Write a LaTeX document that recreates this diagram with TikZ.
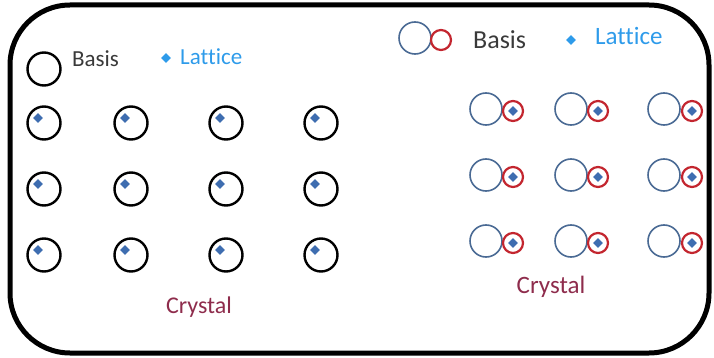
\documentclass[tikz,border=0pt]{standalone}
\usepackage{fontspec}
\setmainfont{Carlito}[Ligatures={NoCommon}]
\usetikzlibrary{shapes.geometric}
\definecolor{basisblue}{HTML}{4A6A94}
\definecolor{basisred}{HTML}{C3262F}
\definecolor{siteblue}{HTML}{3E6DB0}
\definecolor{latticeblue}{HTML}{2E9BEA}
\definecolor{crystalred}{HTML}{8E2C4C}
\definecolor{basisgray}{HTML}{3A3A3A}

\begin{document}
\begin{tikzpicture}[
    x=1pt,
    y=-1pt,
    frame/.style={draw, line width=5pt, rounded corners=60pt},
    atom/.style={draw, circle, line width=2.4pt, minimum size=33pt, inner sep=0pt},
    bigatom/.style={draw=basisblue, circle, line width=1.6pt, minimum size=32pt, inner sep=0pt},
    smallatom/.style={draw=basisred, circle, line width=2.2pt, minimum size=20pt, inner sep=0pt},
    site/.style={diamond, fill=siteblue, minimum size=10pt, inner sep=0pt},
    txt/.style={font=\fontsize{23}{27}\selectfont, inner sep=0pt},
    bigtxt/.style={font=\fontsize{26}{30}\selectfont, inner sep=0pt}
]
\useasboundingbox (0,0) rectangle (714,358);
\draw[frame] (10,5) rectangle (709,353);

% monatomic basis
\node[atom] (basisL) at (44,69) {};
\node[txt, anchor=base west, text=basisgray] (basisLtxt) at (72,67) {Basis};
\node[site, fill=latticeblue] (siteL) at (166,58) {};
\node[txt, anchor=base west, text=latticeblue] (latticeLtxt) at (180,65) {Lattice};
\foreach \px [count=\i] in {44,131,226,321}
  \foreach \py [count=\j] in {123,189,255} {
    \node[atom] (atomL-\i-\j) at (\px,\py) {};
    \node[site] (siteL-\i-\j) at ([shift={(-6,-5)}]atomL-\i-\j.center) {};
  }
\node[txt, font=\fontsize{24}{28}\selectfont, anchor=base, text=crystalred] (crystalL) at (199,313) {Crystal};

% diatomic basis
\node[bigatom] (basisRbig) at (415,38) {};
\node[smallatom] (basisRsmall) at (441,40) {};
\node[bigtxt, anchor=base west, text=basisgray] (basisRtxt) at (473,49) {Basis};
\node[site, fill=latticeblue] (siteR) at (571,40) {};
\node[txt, font=\fontsize{25}{29}\selectfont, anchor=base west, text=latticeblue] (latticeRtxt) at (595,45) {Lattice};
\foreach \px/\sx [count=\i] in {486/513,571/598,664/692}
  \foreach \py [count=\j] in {109,175,241} {
    \node[bigatom] (bigR-\i-\j) at (\px,\py) {};
    \node[smallatom] (smallR-\i-\j) at (\sx,\py+2) {};
    \node[site] (siteR-\i-\j) at (smallR-\i-\j.center) {};
  }
\node[txt, font=\fontsize{25}{29}\selectfont, anchor=base, text=crystalred] (crystalR) at (551,293) {Crystal};
\end{tikzpicture}
\end{document}
